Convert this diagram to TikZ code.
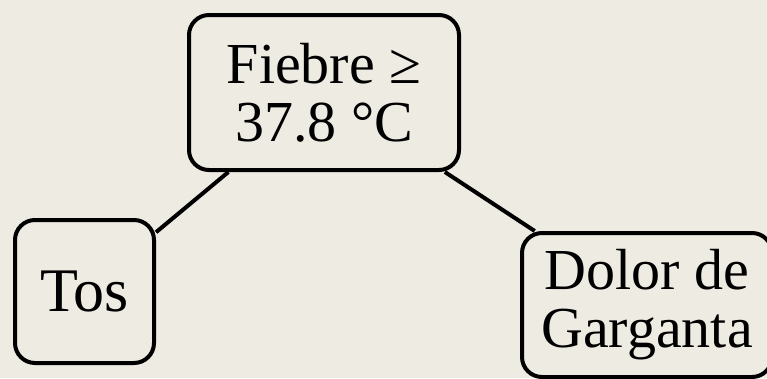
\documentclass[tikz,border=0pt]{standalone}
\usepackage{fontspec}
\setmainfont{Liberation Serif}
\usetikzlibrary{positioning}
\definecolor{paper}{HTML}{EDEBE2}

\begin{document}
\begin{tikzpicture}[x=1pt,y=1pt,
    symptom/.style={draw, line width=4pt, rounded corners=20pt, fill=paper,
      align=center, inner sep=0pt, font=\fontsize{58}{58}\selectfont},
    link/.style={line width=4pt}]
  \fill[paper] (0,0) rectangle (767,-378);
  \useasboundingbox (0,0) rectangle (767,-378);

  \node[symptom, minimum width=270pt, minimum height=155pt] (fever) at (324,-92.5)
    {Fiebre ≥\\37.8 °C};
  \node[symptom, minimum width=139pt, minimum height=143pt,
        font=\fontsize{62}{62}\selectfont,
        below left=199pt and 239.5pt of fever.center, anchor=center] (cough) {Tos};
  \node[symptom, minimum width=250pt, minimum height=144pt,
        below right=212.5pt and 323pt of fever.center, anchor=center] (throat)
    {Dolor de\\Garganta};

  \draw[link] (fever) -- (cough);
  \draw[link] (fever) -- (throat);
\end{tikzpicture}
\end{document}
